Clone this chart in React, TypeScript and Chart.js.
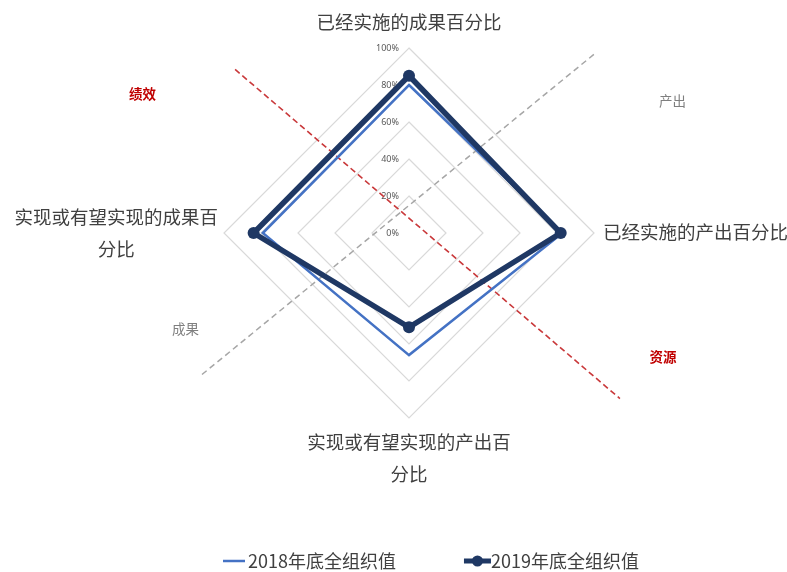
import { useEffect, useRef } from "react";
import { Chart, registerables } from "chart.js";

Chart.register(...registerables);

// ---- data ----
const categories: string[][] = [
  ["已经实施的成果百分比"],
  ["已经实施的产出百分比"],
  ["实现或有望实现的产出百", "分比"],
  ["实现或有望实现的成果百", "分比"],
];
const series2018 = [80, 83, 66, 79];
const series2019 = [85, 82, 51, 84];
const seriesNames = ["2018年底全组织值", "2019年底全组织值"];
const tickValues = [0, 20, 40, 60, 80, 100];
const quadrantLabels = ["绩效", "产出", "成果", "资源"];

// ---- styles ----
const COLOR_2018 = "#4472C4";
const COLOR_2019 = "#1F3864";
const LABEL_FONT = "18.5px 'Noto Sans CJK SC', 'Noto Sans', sans-serif";
const LEGEND_FONT = "18px 'Noto Sans CJK SC', 'Noto Sans', sans-serif";
const SMALL_FONT = "9px 'Noto Sans', 'DejaVu Sans', sans-serif";
const QUAD_FONT = "13.5px 'Noto Sans CJK SC', sans-serif";
const QUAD_FONT_BOLD = "bold 13.5px 'Noto Sans CJK SC', sans-serif";

// positions in units of the scale radius, relative to the scale centre
const redLine = { from: [-0.94, -0.884], to: [1.14, 0.895] };
const greyLine = { from: [-1.119, 0.765], to: [1.005, -0.97] };
const quadrantPos: { p: [number, number]; color: string; bold: boolean }[] = [
  { p: [-1.441, -0.754], color: "#C00000", bold: true },
  { p: [1.424, -0.716], color: "#7F7F7F", bold: false },
  { p: [-1.208, 0.516], color: "#7F7F7F", bold: false },
  { p: [1.373, 0.668], color: "#C00000", bold: true },
];

const overlayPlugin = {
  id: "overlay",
  beforeDatasetsDraw(chart: any) {
    const s = chart.scales.r;
    const ctx: CanvasRenderingContext2D = chart.ctx;
    const cx = s.xCenter;
    const cy = s.yCenter;
    const R = s.drawingArea;
    ctx.save();
    // tick labels
    ctx.font = SMALL_FONT;
    ctx.fillStyle = "#595959";
    ctx.textAlign = "right";
    ctx.textBaseline = "middle";
    tickValues.forEach((v) => {
      const d = s.getDistanceFromCenterForValue(v);
      ctx.fillText(v + "%", cx - 10, cy - d);
    });
    // dashed lines
    const line = (l: { from: number[]; to: number[] }, color: string, dash: number[], w: number) => {
      ctx.beginPath();
      ctx.setLineDash(dash);
      ctx.strokeStyle = color;
      ctx.lineWidth = w;
      ctx.moveTo(cx + l.from[0] * R, cy + l.from[1] * R);
      ctx.lineTo(cx + l.to[0] * R, cy + l.to[1] * R);
      ctx.stroke();
    };
    line(greyLine, "#A6A6A6", [6, 4], 1.5);
    line(redLine, "#C9383A", [6, 3.5], 1.6);
    ctx.setLineDash([]);
    // quadrant labels
    ctx.textAlign = "center";
    quadrantLabels.forEach((t, i) => {
      const q = quadrantPos[i];
      ctx.font = q.bold ? QUAD_FONT_BOLD : QUAD_FONT;
      ctx.fillStyle = q.color;
      ctx.fillText(t, cx + q.p[0] * R, cy + q.p[1] * R);
    });
    ctx.restore();
  },
  afterDraw(chart: any) {
    const s = chart.scales.r;
    const ctx: CanvasRenderingContext2D = chart.ctx;
    const cx = s.xCenter;
    const cy = s.yCenter;
    const R = s.drawingArea;
    const lh = 31.5;
    ctx.save();
    ctx.font = LABEL_FONT;
    ctx.fillStyle = "#404040";
    ctx.textAlign = "center";
    ctx.textBaseline = "middle";
    categories.forEach((lines, i) => {
      const p = s.getPointPosition(i, R);
      const widths = lines.map((l) => ctx.measureText(l).width);
      const bw = Math.max(...widths);
      const n = lines.length;
      let centerX = p.x;
      let firstY = p.y;
      if (Math.abs(p.x - cx) < 1) {
        if (p.y < cy) firstY = p.y - 26 - (n - 1) * lh;
        else firstY = p.y + 24;
      } else if (p.x > cx) {
        centerX = p.x + 9 + bw / 2;
        firstY = p.y - 1 - ((n - 1) * lh) / 2;
      } else {
        centerX = p.x - 6 - bw / 2;
        firstY = p.y - ((n - 1) * lh) / 2;
      }
      lines.forEach((l, k) => ctx.fillText(l, centerX, firstY + k * lh));
    });

    // legend
    ctx.font = LEGEND_FONT;
    ctx.textAlign = "left";
    ctx.fillStyle = "#404040";
    const ly = 561;
    let x = cx - 186;
    ctx.strokeStyle = COLOR_2018;
    ctx.lineWidth = 2.5;
    ctx.beginPath();
    ctx.moveTo(x, ly);
    ctx.lineTo(x + 22, ly);
    ctx.stroke();
    x += 25;
    ctx.fillText(seriesNames[0], x, ly);
    x += ctx.measureText(seriesNames[0]).width + 68;
    ctx.strokeStyle = COLOR_2019;
    ctx.lineWidth = 5;
    ctx.beginPath();
    ctx.moveTo(x, ly);
    ctx.lineTo(x + 27, ly);
    ctx.stroke();
    ctx.fillStyle = COLOR_2019;
    ctx.beginPath();
    ctx.arc(x + 13.5, ly, 5.5, 0, Math.PI * 2);
    ctx.fill();
    x += 27;
    ctx.fillStyle = "#404040";
    ctx.fillText(seriesNames[1], x, ly);
    ctx.restore();
  },
};

export default function App() {
  const ref = useRef<HTMLCanvasElement | null>(null);
  useEffect(() => {
    document.body.style.margin = "0";
    const canvas = ref.current;
    if (!canvas) return;
    const chart = new Chart(canvas, {
      type: "radar",
      data: {
        labels: categories,
        datasets: [
          {
            label: seriesNames[0],
            data: series2018,
            borderColor: COLOR_2018,
            backgroundColor: COLOR_2018,
            borderWidth: 2.5,
            pointRadius: 0,
            pointHoverRadius: 0,
            fill: false,
            order: 1,
          },
          {
            label: seriesNames[1],
            data: series2019,
            borderColor: COLOR_2019,
            backgroundColor: COLOR_2019,
            pointBackgroundColor: COLOR_2019,
            pointBorderColor: COLOR_2019,
            borderWidth: 5.5,
            pointRadius: 6,
            pointBorderWidth: 0,
            fill: false,
            order: 0,
          },
        ],
      },
      options: {
        responsive: false,
        animation: false,
        layout: { padding: { top: 48, bottom: 153, left: 31, right: 0 } },
        elements: { line: { tension: 0 } },
        plugins: {
          legend: { display: false },
          tooltip: { enabled: false },
        },
        scales: {
          r: {
            min: 0,
            max: 100,
            ticks: { stepSize: 20, display: false },
            grid: { color: "#D9D9D9", lineWidth: 1.2 },
            angleLines: { display: false },
            pointLabels: { display: false },
          },
        },
      },
      plugins: [overlayPlugin],
    });
    return () => chart.destroy();
  }, []);
  return (
    <div style={{ width: 787, height: 572, background: "#fff" }}>
      <canvas ref={ref} width={787} height={572} style={{ display: "block" }} />
    </div>
  );
}
